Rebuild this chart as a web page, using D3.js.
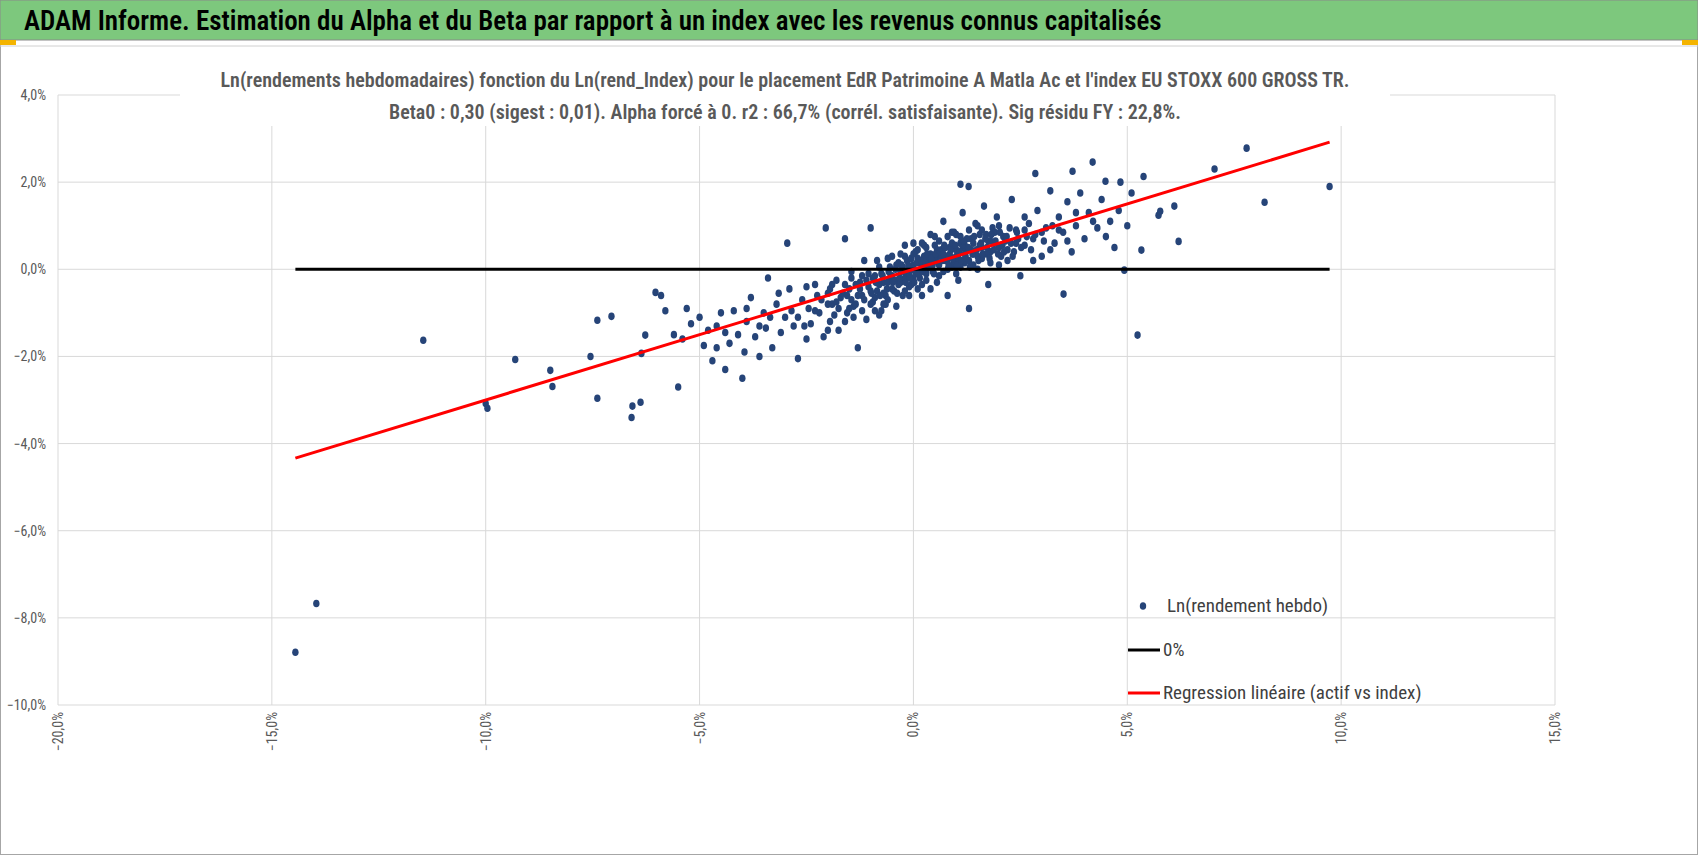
<!DOCTYPE html>
<html><head><meta charset="utf-8">
<script src="https://cdn.jsdelivr.net/npm/d3@7"></script>
<style>
body{margin:0;background:#fff;}
text{font-family:"Liberation Sans Narrow","Arial Narrow","Roboto Condensed","Liberation Sans",sans-serif;}
</style></head><body>
<svg id="chart" width="1698" height="855"></svg>
<script>
// index weekly log returns (%)
const indexRet = [-14.45,-13.96,-11.46,-10.0,-9.96,-9.31,-8.49,-8.44,-7.55,-7.39,-7.39,-7.06,-6.59,-6.57,-6.38,-6.36,-6.27,-6.03,
 7.79,7.04,9.73,8.21,5.24,6.2,6.1,5.38,4.84,4.19,4.49,4.93,5.33,3.51,3.72,2.85,1.29,1.1,5.73,5.77,
 -5.9,-5.8,-5.6,-5.5,-5.4,-5.3,-5.2,-5.0,-4.9,-4.8,-4.7,-4.6,-4.5,-4.4,-4.3,-4.2,-4.1,-4.0,-3.95,-3.9,-3.8,-3.7,-3.6,-3.5,-3.45,-3.4,-3.3,-3.2,-3.1,-3.0,-2.95,-2.9,-2.8,-2.7,-2.6,-2.5,-2.45,-2.4,-2.3,-2.2,-2.1,-2.05,-2.0,-1.95,-1.9,-1.8,-1.75,-1.7,-1.6,-1.55,-1.5,-1.45,-1.4,-1.3,-1.25,-1.2,-1.15,-1.1,-1.05,-1.0,-0.95,-0.9,-0.85,-0.8,-0.75,-0.7,-0.65,-0.6,-0.55,-0.5,-0.45,-0.4,-0.35,-0.3,-0.25,-0.2,-0.15,-0.1,-0.05,0.0,0.05,0.1,0.15,0.2,0.25,0.3,0.35,0.4,0.45,0.5,0.55,0.6,0.65,0.7,0.75,0.8,0.85,0.9,0.95,1.0,1.05,1.1,1.15,1.2,1.25,1.3,1.35,1.4,1.45,1.5,1.55,1.6,1.65,1.7,1.75,1.8,1.85,1.9,1.95,2.0,2.1,2.2,2.3,2.4,2.5,2.6,2.7,2.8,2.9,3.0,3.1,3.2,3.3,3.4,3.5,3.6,3.7,3.8,3.9,4.0,4.1,4.3,4.4,4.6,4.7,4.8,5.0,5.1,
 -2.3,-2.15,-1.95,-1.85,-1.65,-1.5,-1.35,-1.3,-1.2,-1.1,-1.0,-0.95,-0.9,-0.8,-0.75,-0.7,-0.6,-0.55,-0.5,-0.45,-0.4,-0.35,-0.3,-0.25,-0.2,-0.15,-0.1,-0.05,0.0,0.05,0.1,0.15,0.2,0.25,0.3,0.35,0.4,0.45,0.5,0.55,0.6,0.65,0.7,0.75,0.8,0.85,0.9,0.95,1.0,1.05,1.1,1.15,1.2,1.25,1.3,1.35,1.4,1.5,1.55,1.6,1.7,1.75,1.8,1.9,2.0,2.05,2.15,2.25,2.35,2.45,2.6,2.75,2.85,3.05,3.25,-0.05,0.1,-0.2,0.3,0.55,-0.65,-0.85,0.8,1.0,-1.45,-1.6,-2.5,-2.7,0.4,0.2,
 -3.35,-3.15,-2.85,-2.55,-2.25,-2.0,-1.8,-1.6,-1.4,-1.2,-1.0,-0.8,-0.6,-0.4,-0.2,0.0,0.2,0.4,0.6,0.8,1.0,1.2,1.4,1.6,1.8,2.0,2.2,2.4,2.6,2.8,3.0,3.2,3.4,3.6,3.8,4.2,4.5,-4.4,-4.6,-3.9,-3.6,
 -1.45,-1.35,-1.25,-1.15,-1.05,-0.98,-0.88,-0.78,-0.72,-0.62,-0.58,-0.48,-0.42,-0.38,-0.32,-0.28,-0.22,-0.18,-0.12,-0.08,-0.02,0.02,0.08,0.12,0.18,0.22,0.28,0.32,0.38,0.42,0.48,0.52,0.58,0.62,0.68,0.72,0.78,0.82,0.88,0.92,0.98,1.02,1.08,1.12,1.18,1.22,1.28,1.32,1.38,1.42,1.48,1.52,1.58,1.62,1.68,1.72,1.78,1.82,1.88,1.92,1.98,2.02,2.08,2.12,2.18,2.28,2.32,2.42,2.52,2.65,-2.0,-1.9,-1.75,-1.55,-0.5,-0.3,0.0,0.3,0.5,0.7,0.9,1.1,1.3,1.5,-0.7,-0.9,0.1,-0.1];
// fund weekly log returns (%)
const fundRet = [-8.79,-7.67,-1.63,-3.08,-3.19,-2.07,-2.32,-2.69,-2.0,-2.96,-1.17,-1.08,-3.40,-3.14,-3.05,-1.93,-1.51,-0.53,
 2.78,2.30,1.9,1.54,-1.51,0.64,1.45,2.13,2.0,2.46,2.02,-0.02,0.44,-0.57,2.25,2.2,1.9,1.95,1.24,1.33,
 -0.6,-0.95,-1.5,-2.7,-1.6,-0.9,-1.25,-1.1,-1.75,-1.4,-2.1,-1.3,-1.0,-2.3,-1.7,-0.95,-1.5,-2.5,-1.9,-1.2,-0.65,-1.55,-2.0,-1.0,-1.35,-0.2,-1.8,-0.8,-1.45,-1.1,0.6,-0.45,-1.3,-2.05,-0.7,-1.6,-0.9,-1.25,-0.35,-1.0,-1.55,0.95,-0.55,-1.2,-0.8,-0.25,-1.4,-0.65,0.7,-1.0,-0.45,-0.05,-0.85,-1.8,-0.3,-0.6,0.2,-1.15,-0.4,0.95,-0.75,-0.15,-0.5,0.05,-0.95,-0.3,-0.6,0.25,-0.2,-0.45,-1.3,0.1,-0.35,-0.05,-0.6,0.3,-0.15,-0.4,0.05,-0.2,0.4,-0.05,0.15,-0.35,0.55,0.0,0.25,-0.45,0.1,0.75,0.3,-0.15,0.45,1.1,0.2,-0.6,0.5,0.05,0.85,0.3,-0.25,0.6,1.3,0.15,0.45,-0.9,0.7,0.35,1.05,0.0,0.55,0.25,1.45,0.8,-0.35,0.4,0.95,0.6,1.2,0.1,0.75,0.45,1.6,0.9,-0.15,0.55,1.05,0.7,1.35,0.3,0.95,1.8,0.6,1.2,0.85,1.55,0.4,1.0,1.75,0.7,1.3,0.95,1.6,1.1,0.5,1.35,1.0,1.75,
 -0.95,-0.7,-0.45,-1.05,-0.55,-0.9,-0.35,-0.6,-0.95,-0.25,-0.5,-0.2,-0.65,-0.35,-0.1,-0.55,-0.3,0.05,-0.15,-0.5,-0.25,0.15,-0.3,0.05,-0.2,0.2,-0.1,-0.35,0.1,-0.1,0.25,-0.2,0.05,0.3,-0.1,0.1,0.35,-0.05,0.2,0.45,0.1,0.3,-0.05,0.5,0.2,0.35,0.6,0.15,0.45,0.25,0.05,0.5,0.35,0.7,0.2,0.45,0.6,0.3,0.8,0.5,0.35,0.65,0.15,0.85,0.5,0.3,0.65,0.95,0.4,0.7,0.9,0.45,0.8,0.65,1.0,0.25,0.45,-0.5,0.5,-0.3,-0.8,0.2,0.75,-0.1,-0.7,-1.2,-0.4,-1.1,0.8,0.6,
 -1.1,-0.55,-0.95,-1.3,-0.6,-1.4,-0.75,-0.35,-1.1,-0.15,-0.8,-1.05,-0.7,-0.85,0.55,0.6,-0.6,0.15,0.65,0.0,0.8,0.55,0.1,0.9,0.65,1.0,0.2,0.6,1.2,0.2,0.85,0.45,0.9,0.65,1.3,1.1,0.75,-1.45,-1.8,-0.9,-1.3,
 -0.2,-0.8,-0.45,-0.7,-0.1,-0.55,-0.3,-0.6,-0.15,-0.45,-0.05,-0.3,0.0,-0.55,-0.2,0.1,-0.05,-0.3,0.1,-0.2,0.0,-0.3,0.15,-0.1,0.2,-0.05,0.15,0.35,0.05,0.25,-0.1,0.35,0.15,0.4,0.2,0.55,0.3,0.1,0.45,0.25,0.55,0.1,0.4,0.2,0.65,0.3,0.5,0.05,0.35,0.75,0.45,0.2,0.6,0.35,0.7,0.5,0.25,0.8,0.45,0.65,0.35,0.85,0.55,0.4,0.75,0.6,0.3,0.85,0.5,0.75,-0.8,-0.35,-0.9,-0.6,0.3,0.35,0.35,-0.25,0.55,0.35,0.85,0.75,0.9,1.0,-0.8,-0.95,-0.45,-0.6];
const xTicks = [-20,-15,-10,-5,0,5,10,15];
const yTicks = [4,2,0,-2,-4,-6,-8,-10];
const beta = 0.30;
const legendLabels = ['Ln(rendement hebdo)','0%','Regression linéaire (actif vs index)'];

const svg = d3.select('#chart');
const pts = indexRet.map((x,i)=>({x:x,y:fundRet[i]}));
const fmt = v => d3.format('.1f')(v).replace('.',',') + '%';

// frame and header
svg.append('rect').attr('x',0.5).attr('y',0.5).attr('width',1697).attr('height',854)
   .attr('fill','#fff').attr('stroke','#a6a6a6');
svg.append('rect').attr('x',0).attr('y',0).attr('width',1698).attr('height',40).attr('fill','#7dc87d')
   .attr('stroke','#8a8a8a');
svg.append('text').attr('x',24).attr('y',30).attr('font-size',27).attr('font-weight',600).attr('fill','#000')
   .text('ADAM Informe. Estimation du Alpha et du Beta par rapport à un index avec les revenus connus capitalisés');
svg.append('rect').attr('x',0).attr('y',40).attr('width',16).attr('height',5).attr('fill','#f4b400');
svg.append('rect').attr('x',1682).attr('y',40).attr('width',16).attr('height',5).attr('fill','#f4b400');
svg.append('line').attr('x1',0).attr('x2',1698).attr('y1',46).attr('y2',46).attr('stroke','#d0d0d0');

const x = d3.scaleLinear().domain([-20,15]).range([58,1555]);
const y = d3.scaleLinear().domain([-10,4]).range([705,95]);

// grid
svg.append('g').selectAll('line').data(xTicks).join('line')
   .attr('x1',d=>x(d)).attr('x2',d=>x(d)).attr('y1',95).attr('y2',705).attr('stroke','#d9d9d9');
svg.append('g').selectAll('line').data(yTicks).join('line')
   .attr('x1',58).attr('x2',1555).attr('y1',d=>y(d)).attr('y2',d=>y(d)).attr('stroke','#d9d9d9');

// axis labels
svg.append('g').selectAll('text').data(yTicks).join('text')
   .attr('x',46).attr('y',d=>y(d)+5).attr('text-anchor','end').attr('font-size',14).attr('fill','#595959')
   .text(fmt);
svg.append('g').selectAll('text').data(xTicks).join('text')
   .attr('transform',d=>`translate(${x(d)+5},712) rotate(-90)`).attr('text-anchor','end')
   .attr('font-size',14).attr('fill','#595959').text(fmt);

// titles
svg.append('rect').attr('x',180).attr('y',64).attr('width',1210).attr('height',62).attr('fill','#fff');
svg.append('text').attr('x',785).attr('y',87).attr('text-anchor','middle').attr('font-size',20).attr('font-weight',600)
   .attr('fill','#595959').text("Ln(rendements hebdomadaires) fonction du Ln(rend_Index) pour le placement EdR Patrimoine A Matla Ac et l'index EU STOXX 600 GROSS TR.");
svg.append('text').attr('x',785).attr('y',119).attr('text-anchor','middle').attr('font-size',20).attr('font-weight',600)
   .attr('fill','#595959').text('Beta0 : 0,30 (sigest : 0,01). Alpha forcé à 0. r2 : 66,7% (corrél. satisfaisante). Sig résidu FY : 22,8%.');

const xmin = d3.min(indexRet), xmax = d3.max(indexRet);

// points
svg.append('g').selectAll('ellipse').data(pts).join('ellipse')
   .attr('cx',d=>x(d.x)).attr('cy',d=>y(d.y)).attr('rx',3.2).attr('ry',3.8).attr('fill','#264478');

// 0% line and regression
svg.append('line').attr('x1',x(xmin)).attr('x2',x(xmax)).attr('y1',y(0)).attr('y2',y(0))
   .attr('stroke','#000').attr('stroke-width',3);
svg.append('line').attr('x1',x(xmin)).attr('x2',x(xmax)).attr('y1',y(beta*xmin)).attr('y2',y(beta*xmax))
   .attr('stroke','#ff0000').attr('stroke-width',3);

// legend
const lg = svg.append('g');
lg.append('ellipse').attr('cx',1143).attr('cy',606).attr('rx',3.2).attr('ry',3.8).attr('fill','#264478');
lg.append('line').attr('x1',1128).attr('x2',1160).attr('y1',650).attr('y2',650).attr('stroke','#000').attr('stroke-width',3);
lg.append('line').attr('x1',1128).attr('x2',1160).attr('y1',693).attr('y2',693).attr('stroke','#ff0000').attr('stroke-width',3);
lg.selectAll('text').data(legendLabels).join('text')
   .attr('x',(d,i)=> i===0 ? 1167 : 1163).attr('y',(d,i)=>612+i*43.5).attr('font-size',19).attr('fill','#404040').text(d=>d);
</script></body></html>
